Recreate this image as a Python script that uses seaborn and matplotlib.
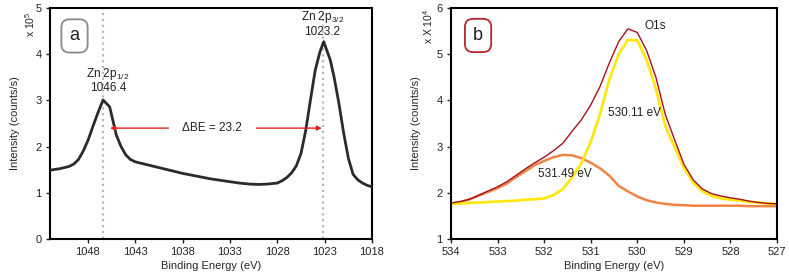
import numpy as np
import pandas as pd
import seaborn as sns
import matplotlib.pyplot as plt

# Panel a: Zn 2p survey (intensity in 1e5 counts/s)
be_zn = [1052, 1051, 1050, 1049.5, 1049, 1048.5, 1048, 1047.5, 1047, 1046.4,
         1045.7, 1045, 1044.5, 1044, 1043.5, 1043, 1042, 1041, 1040, 1039,
         1038, 1037, 1036, 1035, 1034, 1033, 1032, 1031, 1030, 1029,
         1028, 1027.5, 1027, 1026.5, 1026, 1025.5, 1025, 1024.5, 1024, 1023.5,
         1023.1, 1022.4, 1022, 1021.5, 1021, 1020.5, 1020, 1019.5, 1019, 1018.5, 1018]
int_zn = [1.49, 1.52, 1.57, 1.62, 1.72, 1.90, 2.13, 2.42, 2.70, 3.01,
          2.86, 2.25, 2.00, 1.82, 1.72, 1.67, 1.62, 1.57, 1.52, 1.47,
          1.42, 1.38, 1.34, 1.30, 1.27, 1.24, 1.21, 1.19, 1.18, 1.19,
          1.21, 1.26, 1.33, 1.43, 1.58, 1.85, 2.35, 3.01, 3.65, 4.05,
          4.27, 3.87, 3.50, 2.94, 2.30, 1.75, 1.40, 1.28, 1.21, 1.16, 1.13]
zn_peaks = [1046.4, 1023.2]

# Panel b: O1s fit (intensity in 1e4 counts/s)
be_o = [534.0, 533.8, 533.6, 533.4, 533.2, 533.0, 532.8, 532.6, 532.4, 532.2,
        532.0, 531.8, 531.6, 531.4, 531.2, 531.0, 530.8, 530.6, 530.4, 530.2,
        530.0, 529.8, 529.6, 529.4, 529.2, 529.0, 528.8, 528.6, 528.4, 528.2,
        528.0, 527.8, 527.6, 527.4, 527.2, 527.0]
o_total = [1.78, 1.81, 1.86, 1.95, 2.04, 2.13, 2.24, 2.38, 2.52, 2.65,
           2.77, 2.91, 3.07, 3.33, 3.58, 3.90, 4.30, 4.81, 5.27, 5.55,
           5.47, 5.08, 4.50, 3.70, 3.15, 2.62, 2.28, 2.08, 1.98, 1.93,
           1.89, 1.86, 1.82, 1.79, 1.77, 1.76]
o_peak1 = [1.76, 1.80, 1.86, 1.94, 2.02, 2.10, 2.20, 2.34, 2.47, 2.60,
           2.69, 2.77, 2.82, 2.81, 2.75, 2.65, 2.53, 2.37, 2.15, 2.03,
           1.92, 1.84, 1.79, 1.76, 1.74, 1.73, 1.72, 1.72, 1.72, 1.72,
           1.72, 1.72, 1.71, 1.71, 1.71, 1.71]
o_peak2 = [1.76, 1.77, 1.78, 1.79, 1.80, 1.81, 1.82, 1.83, 1.85, 1.86,
           1.88, 1.95, 2.08, 2.33, 2.64, 3.10, 3.70, 4.45, 5.00, 5.31,
           5.30, 4.88, 4.25, 3.45, 2.99, 2.54, 2.22, 2.03, 1.93, 1.88,
           1.85, 1.83, 1.80, 1.79, 1.77, 1.76]

sns.set_style("ticks")
plt.rcParams["font.family"] = ["Liberation Sans", "DejaVu Sans"]
plt.rcParams["mathtext.fontset"] = "custom"
plt.rcParams["mathtext.rm"] = "Liberation Sans"
plt.rcParams["text.color"] = "#222222"

fig = plt.figure(figsize=(7.89, 2.78), dpi=100)
ax1 = fig.add_axes([0.0634, 0.1403, 0.4081, 0.8310])
ax2 = fig.add_axes([0.5716, 0.1403, 0.4132, 0.8310])

fs = 8

# ---- panel a ----
df_zn = pd.DataFrame({"be": be_zn, "intensity": int_zn})
for p in zn_peaks:
    ax1.axvline(p, color="#a9b9d6", ls=":", lw=1.6, zorder=1)
sns.lineplot(data=df_zn, x="be", y="intensity", sort=False, color="#2b2b2b",
             lw=2.0, ax=ax1, zorder=3)
ax1.set_xlim(1052, 1018)
ax1.set_ylim(0, 5)
ax1.set_xticks([1048, 1043, 1038, 1033, 1028, 1023, 1018])
ax1.set_yticks([0, 1, 2, 3, 4, 5])

ax1.text(1045.9, 3.57, "Zn 2p$_{\\mathregular{1/2}}$", ha="center", va="center", fontsize=8.5)
ax1.text(1045.9, 3.27, "1046.4", ha="center", va="center", fontsize=8.5)
ax1.text(1023.25, 4.80, "Zn 2p$_{\\mathregular{3/2}}$", ha="center", va="center", fontsize=8.5)
ax1.text(1023.25, 4.48, "1023.2", ha="center", va="center", fontsize=8.5)
ax1.text(1034.9, 2.40, "\u0394BE = 23.2", ha="center", va="center", fontsize=8.5)
arrow = dict(arrowstyle="-|>", color="#e02020", lw=1.0, mutation_scale=7,
             shrinkA=0, shrinkB=0)
ax1.annotate("", xy=(1045.65, 2.40), xytext=(1039.5, 2.40), arrowprops=arrow)
ax1.annotate("", xy=(1023.3, 2.40), xytext=(1030.2, 2.40), arrowprops=arrow)
ax1.text(0.076, 0.879, "a", transform=ax1.transAxes, ha="center", va="center",
         fontsize=13, bbox=dict(boxstyle="round,pad=0.45", fc="white", ec="#8a8a8a", lw=1.3))

ax1.set_xlabel("Binding Energy (eV)", fontsize=fs, labelpad=3)
ax1.set_ylabel("Intensity (counts/s)", fontsize=fs, labelpad=11)
ax1.text(-0.062, 0.93, "x 10$^{\\mathregular{5}}$", transform=ax1.transAxes, rotation=90,
         ha="center", va="center", fontsize=7.5)

# ---- panel b ----
df_o = pd.DataFrame({"be": be_o, "total": o_total, "p1": o_peak1, "p2": o_peak2})
sns.lineplot(data=df_o, x="be", y="p1", sort=False, color="#ef8445", lw=1.8, ax=ax2)
sns.lineplot(data=df_o, x="be", y="p2", sort=False, color="#ffe812", lw=2.0, ax=ax2)
sns.lineplot(data=df_o, x="be", y="total", sort=False, color="#a8101e", lw=1.0, ax=ax2)
ax2.set_xlim(534, 527)
ax2.set_ylim(1, 6)
ax2.set_xticks([534, 533, 532, 531, 530, 529, 528, 527])
ax2.set_yticks([1, 2, 3, 4, 5, 6])

ax2.text(529.62, 5.60, "O1s", ha="center", va="center", fontsize=8.5)
ax2.text(530.05, 3.73, "530.11 eV", ha="center", va="center", fontsize=8.5)
ax2.text(531.55, 2.40, "531.49 eV", ha="center", va="center", fontsize=8.5)
ax2.text(0.083, 0.881, "b", transform=ax2.transAxes, ha="center", va="center",
         fontsize=13, bbox=dict(boxstyle="round,pad=0.45", fc="white", ec="#b8262e", lw=1.3))

ax2.set_xlabel("Binding Energy (eV)", fontsize=fs, labelpad=3)
ax2.set_ylabel("Intensity (counts/s)", fontsize=fs, labelpad=11)
ax2.text(-0.07, 0.92, "x X 10$^{\\mathregular{4}}$", transform=ax2.transAxes, rotation=90,
         ha="center", va="center", fontsize=7.5)

for ax in (ax1, ax2):
    for s in ax.spines.values():
        s.set_visible(True)
        s.set_color("black")
        s.set_linewidth(1.5)
    ax.tick_params(direction="out", length=3, width=1, labelsize=fs, pad=3,
                   colors="#222222")

fig.savefig("out.png", dpi=100)
